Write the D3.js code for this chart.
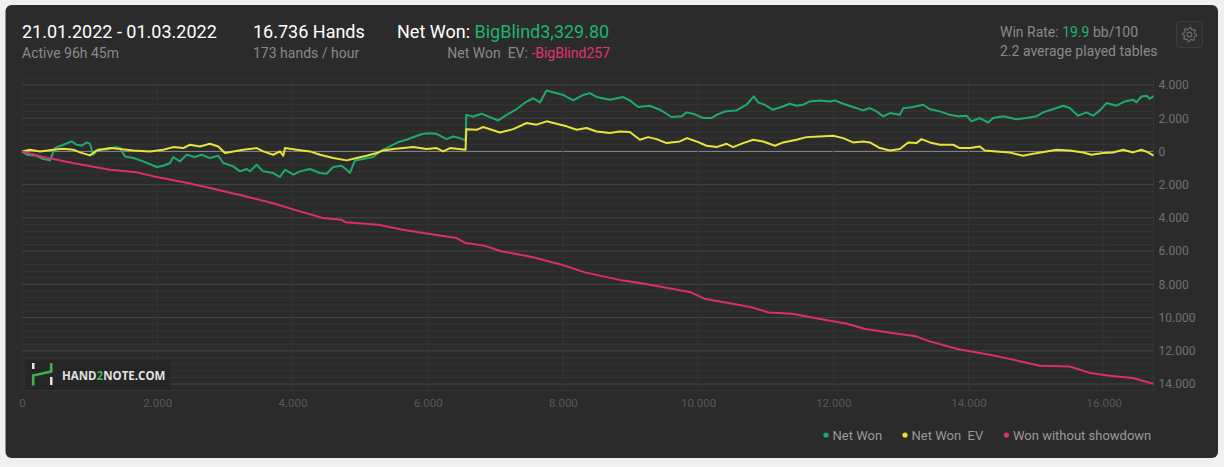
<!DOCTYPE html>
<html lang="en">
<head>
<meta charset="UTF-8">
<title>Hand2Note graph</title>
<style>
  body { margin: 0; background: #f0f0f0; }
  svg { display: block; font-family: Roboto, "Noto Sans", sans-serif; }
</style>
</head>
<body>
<svg id="graph" width="1224" height="467"></svg>
<script src="https://d3js.org/d3.v7.min.js"></script>
<script>
// ---- data (hands, big blinds) ----
const totalHands = 16736;
const xTicks = [0, 2000, 4000, 6000, 8000, 10000, 12000, 14000, 16000];
const yTicks = [4000, 2000, 0, -2000, -4000, -6000, -8000, -10000, -12000, -14000];
const seriesNames = ['Net Won', 'Net Won  EV', 'Won without showdown'];

const netWon = [[0,0],[70,-200],[217,-260],[315,-460],[414,-540],[488,200],[611,400],[735,600],[809,400],[883,350],[957,540],[1006,450],[1054,-200],[1128,140],[1253,100],[1375,260],[1449,200],[1523,-300],[1646,-400],[1794,-600],[1992,-940],[2090,-860],[2189,-700],[2237,-340],[2336,-600],[2436,-200],[2558,-340],[2657,-200],[2780,-400],[2903,-260],[2977,-700],[3125,-900],[3224,-1200],[3323,-1060],[3372,-1200],[3471,-800],[3568,-1200],[3716,-1300],[3815,-1540],[3889,-1100],[4012,-1400],[4111,-1200],[4259,-1060],[4407,-1300],[4506,-1340],[4603,-940],[4728,-860],[4802,-1100],[4850,-1300],[4924,-540],[5047,-460],[5195,-340],[5294,0],[5442,300],[5590,600],[5689,700],[5812,900],[5934,1060],[6033,1100],[6132,1060],[6280,740],[6378,900],[6477,800],[6560,660],[6572,2200],[6674,2100],[6798,2270],[6921,2060],[7044,1860],[7168,2200],[7316,2550],[7464,3000],[7561,3200],[7660,2950],[7759,3670],[7857,3560],[8005,3400],[8153,3070],[8301,3400],[8399,3510],[8499,3280],[8695,3110],[8892,3270],[8991,3070],[9114,2670],[9286,2750],[9434,2510],[9608,2070],[9755,2110],[9829,2350],[9927,2270],[10075,2010],[10199,2010],[10273,2200],[10396,2400],[10569,2470],[10717,2810],[10825,3310],[10888,2950],[10987,2810],[11101,2510],[11234,2670],[11357,2870],[11456,2750],[11554,2810],[11653,3010],[11801,3070],[11949,3010],[12023,3070],[12146,2870],[12294,2670],[12442,2470],[12541,2610],[12640,2410],[12737,2110],[12836,2310],[12984,2200],[13033,2600],[13181,2670],[13329,2810],[13428,2540],[13576,2410],[13723,2200],[13846,2110],[13970,2150],[14044,1810],[14167,2010],[14290,1740],[14364,2010],[14512,2110],[14709,1940],[14857,2010],[15005,2110],[15103,2350],[15301,2610],[15399,2750],[15498,2610],[15621,2150],[15745,2350],[15843,2150],[15942,2470],[16041,2910],[16189,2750],[16311,3010],[16434,3110],[16484,2950],[16558,3310],[16632,3350],[16681,3170],[16736,3330]];

const netWonEV = [[0,0],[118,100],[266,0],[463,100],[611,160],[759,100],[858,-60],[1006,-240],[1105,60],[1301,200],[1449,140],[1646,60],[1893,0],[2090,100],[2237,260],[2385,200],[2484,400],[2632,300],[2780,460],[2903,300],[3002,-100],[3125,0],[3273,100],[3471,200],[3568,0],[3716,-200],[3815,0],[3864,-260],[3889,200],[4062,100],[4259,0],[4407,-200],[4603,-400],[4802,-540],[4950,-400],[5097,-260],[5245,-100],[5343,60],[5491,140],[5639,200],[5787,260],[5985,140],[6132,200],[6231,0],[6329,200],[6560,100],[6572,1340],[6724,1300],[6822,1470],[6946,1300],[7069,1140],[7266,1340],[7464,1710],[7612,1610],[7759,1810],[7907,1670],[8055,1510],[8203,1300],[8351,1410],[8499,1200],[8695,1110],[8843,1200],[8991,1170],[9139,700],[9262,860],[9386,740],[9534,500],[9730,600],[9838,800],[9977,600],[10125,340],[10273,260],[10421,460],[10519,260],[10667,500],[10815,700],[10963,600],[11136,340],[11258,540],[11456,700],[11604,860],[11801,900],[11998,940],[12146,800],[12294,540],[12442,600],[12541,540],[12688,200],[12836,60],[12984,140],[13107,540],[13230,500],[13304,740],[13428,540],[13576,400],[13773,400],[13871,200],[14019,200],[14167,300],[14241,60],[14414,0],[14611,-60],[14808,-260],[14956,-140],[15153,0],[15301,100],[15498,60],[15695,-60],[15818,-200],[15990,-100],[16138,-60],[16286,100],[16434,-60],[16558,100],[16656,-60],[16736,-257]];

const wonWithoutShowdown = [[0,0],[315,-340],[809,-740],[1301,-1100],[1696,-1260],[1992,-1540],[2400,-1850],[2780,-2200],[3273,-2670],[3700,-3100],[4111,-3610],[4451,-4010],[4723,-4110],[4791,-4270],[5265,-4410],[5674,-4750],[6014,-4950],[6422,-5210],[6558,-5510],[6832,-5670],[7103,-6020],[7511,-6320],[7986,-6820],[8326,-7280],[8870,-7760],[9142,-7920],[9550,-8220],[9891,-8480],[10094,-8860],[10774,-9360],[11047,-9690],[11387,-9770],[11727,-10020],[12200,-10370],[12474,-10690],[12950,-10970],[13221,-11130],[13428,-11430],[13834,-11890],[14311,-12230],[14773,-12640],[15054,-12900],[15498,-12940],[15794,-13330],[16089,-13500],[16429,-13640],[16736,-13980]];

const series = [netWon, netWonEV, wonWithoutShowdown];
const colors = ['#1dab6c', '#e8e33a', '#db2f6b'];

// ---- layout ----
const width = 1224;
const height = 467;
const plot = { left: 22, right: 1153.5, top: 78.3, bottom: 390.7 };

const svg = d3.select('#graph');

svg.append('rect')
  .attr('x', 5.5).attr('y', 5).attr('width', 1212.5).attr('height', 453)
  .attr('rx', 6)
  .attr('fill', '#2b2b2b');

const xScale = d3.scaleLinear()
  .domain([0, totalHands])
  .range([plot.left, plot.right]);
const yScale = d3.scaleLinear()
  .domain([-14400, 4400])
  .range([plot.bottom, plot.top]);

const dotted = d3.formatLocale({ decimal: ',', thousands: '.', grouping: [3], currency: ['', ''] });
const fmt = dotted.format(',');

// grid
const minor = d3.range(-14400, 4401, 400);
svg.append('g')
  .selectAll('line')
  .data(minor)
  .join('line')
  .attr('x1', plot.left).attr('x2', plot.right)
  .attr('y1', (d) => yScale(d)).attr('y2', (d) => yScale(d))
  .attr('stroke', (d) => d === 0 ? '#8a8a8a' : (d % 2000 === 0 ? '#474747' : '#353535'))
  .attr('stroke-width', 1);

svg.append('g')
  .selectAll('line')
  .data(xTicks.concat([totalHands]))
  .join('line')
  .attr('x1', (d) => xScale(d)).attr('x2', (d) => xScale(d))
  .attr('y1', plot.top).attr('y2', plot.bottom)
  .attr('stroke', '#353535')
  .attr('stroke-width', 1);

// axes
const yAxis = d3.axisRight(yScale)
  .tickValues(yTicks)
  .tickSize(0)
  .tickPadding(5)
  .tickFormat((d) => fmt(Math.abs(d)));
const yG = svg.append('g')
  .attr('transform', `translate(${plot.right}, 0)`)
  .call(yAxis);
yG.select('.domain').remove();
yG.selectAll('text')
  .attr('fill', '#727272')
  .style('font-size', '12px')
  .style('font-family', 'Roboto, sans-serif');

const xAxis = d3.axisBottom(xScale)
  .tickValues(xTicks)
  .tickSize(0)
  .tickPadding(8)
  .tickFormat((d) => fmt(d));
const xG = svg.append('g')
  .attr('transform', `translate(0, ${plot.bottom})`)
  .call(xAxis);
xG.select('.domain').remove();
xG.selectAll('text')
  .attr('fill', '#585858')
  .style('font-size', '11.5px')
  .style('font-family', 'Roboto, sans-serif');

// lines
const line = d3.line()
  .x((d) => xScale(d[0]))
  .y((d) => yScale(d[1]));

svg.append('g')
  .selectAll('path')
  .data(series)
  .join('path')
  .attr('d', line)
  .attr('fill', 'none')
  .attr('stroke', (d, i) => colors[i])
  .attr('stroke-width', 2)
  .attr('stroke-linejoin', 'round');

// watermark
const wm = svg.append('g');
wm.append('rect')
  .attr('x', 25).attr('y', 360).attr('width', 146).attr('height', 30)
  .attr('fill', '#262626');
wm.append('rect').attr('x', 32).attr('y', 363).attr('width', 2.5).attr('height', 6).attr('fill', '#e6e6e6');
wm.append('rect').attr('x', 50).attr('y', 377).attr('width', 2.5).attr('height', 8).attr('fill', '#e6e6e6');
wm.append('path')
  .attr('d', 'M33.2,385.5 V375.5 L51.2,371.5 V363')
  .attr('fill', 'none')
  .attr('stroke', '#3cb44b')
  .attr('stroke-width', 2.6);
const wmText = wm.append('text')
  .attr('x', 62).attr('y', 379.5)
  .attr('fill', '#e2e2e2')
  .style('font-size', '11.5px')
  .style('font-weight', 'bold')
  .style('font-family', '"Open Sans", Roboto, sans-serif');
wmText.append('tspan').text('HAND');
wmText.append('tspan').attr('fill', '#3cb44b').text('2');
wmText.append('tspan').text('NOTE.COM');

// header
const white = '#ffffff';
const grey = '#8a8a8a';
const green = '#1fb36f';
const pink = '#e1356f';

svg.append('text')
  .attr('x', 22).attr('y', 38)
  .attr('fill', white).style('font-size', '18px')
  .text('21.01.2022 - 01.03.2022');
svg.append('text')
  .attr('x', 22).attr('y', 58)
  .attr('fill', grey).style('font-size', '14px')
  .text('Active 96h 45m');

svg.append('text')
  .attr('x', 253).attr('y', 38)
  .attr('fill', white).style('font-size', '18px')
  .text('16.736 Hands');
svg.append('text')
  .attr('x', 253).attr('y', 58)
  .attr('fill', grey).style('font-size', '14px')
  .text('173 hands / hour');

const nw = svg.append('text')
  .attr('x', 397).attr('y', 38)
  .style('font-size', '18px');
nw.append('tspan').attr('fill', white).text('Net Won: ');
nw.append('tspan').attr('fill', green).text('BigBlind3,329.80');

const nwev = svg.append('text')
  .attr('x', 610).attr('y', 58)
  .attr('text-anchor', 'end')
  .style('font-size', '14px')
  .style('white-space', 'pre');
nwev.append('tspan').attr('fill', grey).text('Net Won  EV: ');
nwev.append('tspan').attr('fill', pink).text('-BigBlind257');

const wr = svg.append('text')
  .attr('x', 1000).attr('y', 37)
  .style('font-size', '14px');
wr.append('tspan').attr('fill', grey).text('Win Rate: ');
wr.append('tspan').attr('fill', green).text('19.9');
wr.append('tspan').attr('fill', grey).text(' bb/100');
svg.append('text')
  .attr('x', 1000).attr('y', 56)
  .attr('fill', grey).style('font-size', '14px')
  .text('2.2 average played tables');

// settings button
const gear = svg.append('g').attr('transform', 'translate(1189.5, 34.5)');
gear.append('rect')
  .attr('x', -13).attr('y', -13).attr('width', 26).attr('height', 26)
  .attr('rx', 3)
  .attr('fill', '#2e2e2e')
  .attr('stroke', '#3d3d3d');
const teeth = 8;
const gearPts = [];
for (let i = 0; i < teeth * 4; i++) {
  const a = (i / (teeth * 4)) * Math.PI * 2;
  const r = (i % 4 === 0 || i % 4 === 1) ? 7 : 5.3;
  gearPts.push([Math.sin(a) * r, -Math.cos(a) * r]);
}
gear.append('path')
  .attr('d', d3.line().curve(d3.curveLinearClosed)(gearPts))
  .attr('fill', 'none')
  .attr('stroke', '#6e6e6e')
  .attr('stroke-width', 1.1);
gear.append('circle')
  .attr('r', 2.4)
  .attr('fill', 'none')
  .attr('stroke', '#6e6e6e')
  .attr('stroke-width', 1.1);

// legend
const legendX = [826, 905, 1006.5];
const legend = svg.append('g')
  .selectAll('g')
  .data(seriesNames)
  .join('g')
  .attr('transform', (d, i) => `translate(${legendX[i]}, 435)`);
legend.append('circle')
  .attr('r', 2.6)
  .attr('fill', (d, i) => colors[i]);
legend.append('text')
  .attr('x', 6.5).attr('y', 4.5)
  .attr('fill', '#9a9a9a')
  .style('font-size', '13px')
  .style('white-space', 'pre')
  .text((d) => d);
</script>
</body>
</html>
